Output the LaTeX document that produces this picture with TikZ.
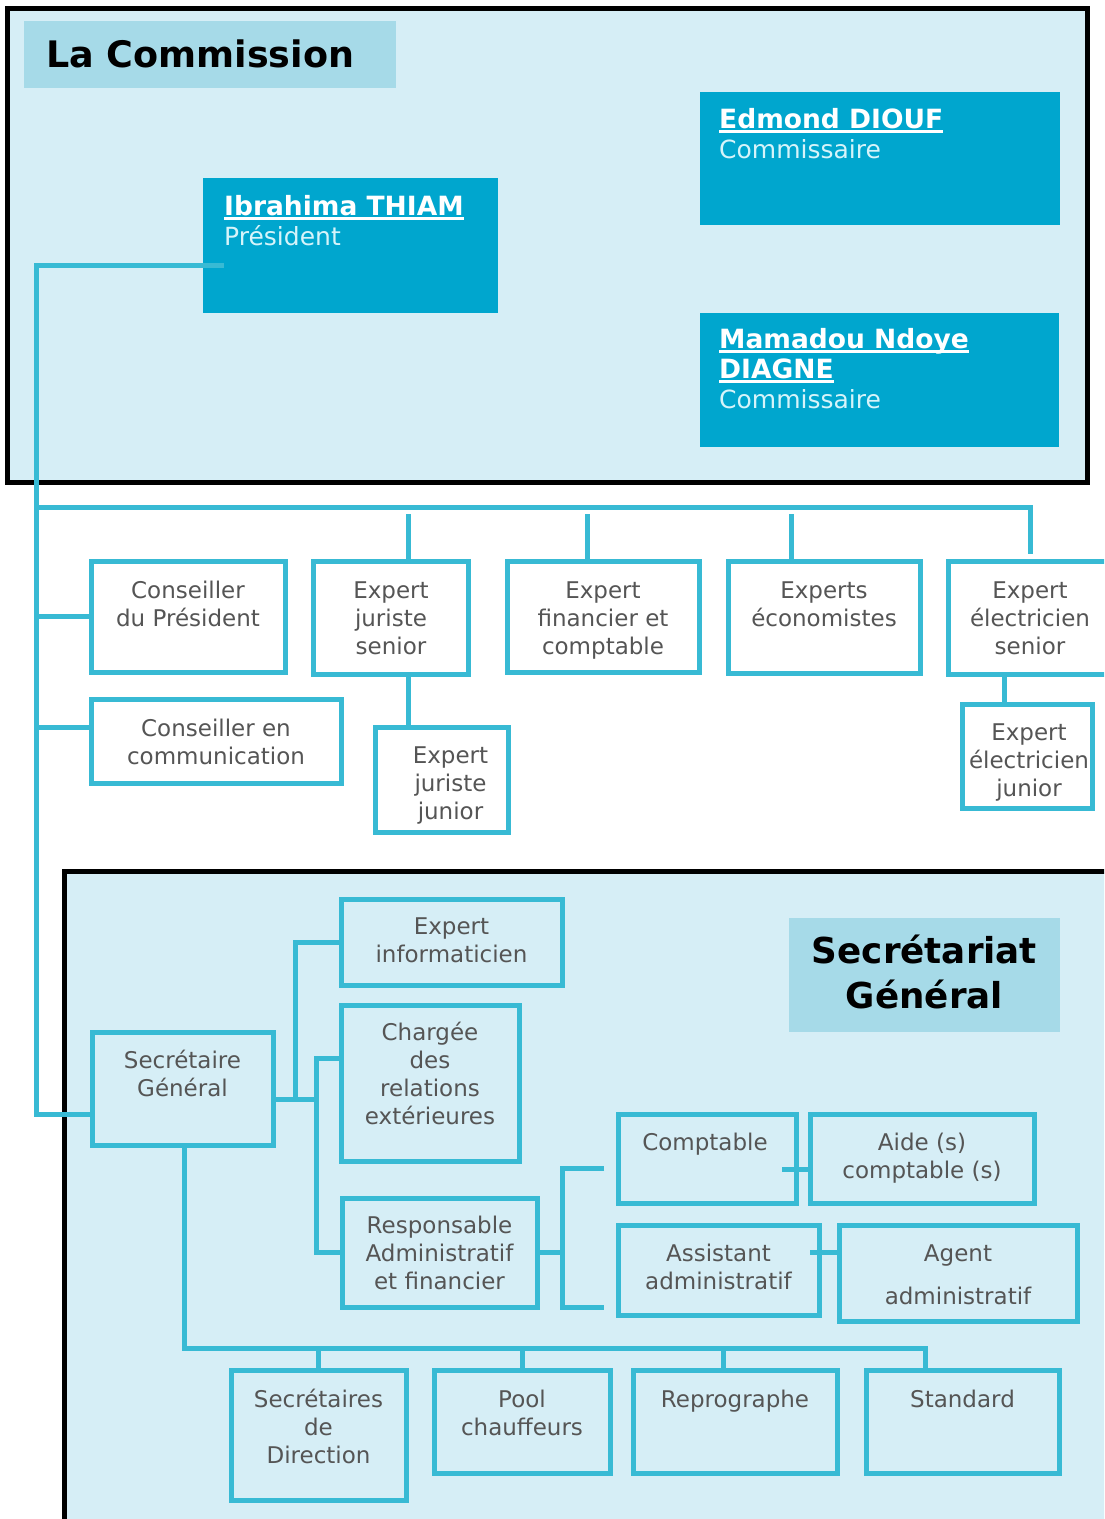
\documentclass[tikz,border=0pt]{standalone}
\usepackage{fontspec}
\setmainfont{DejaVu Sans}
\usetikzlibrary{calc}
\definecolor{lineblue}{RGB}{56,186,212}
\definecolor{framefill}{RGB}{214,238,246}
\definecolor{titlefill}{RGB}{166,218,232}
\definecolor{darkbox}{RGB}{0,166,206}
\definecolor{txtgray}{RGB}{85,85,85}
\definecolor{roletxt}{RGB}{214,244,250}
\newsavebox\ulbox
\newcommand\ulname[1]{\sbox\ulbox{#1}\rlap{\rule[-4.5pt]{\wd\ulbox}{2.2pt}}\usebox\ulbox}
\newcommand\ml[1]{\begin{tabular}[t]{@{}c@{}}#1\end{tabular}}
\newcommand\mll[1]{\begin{tabular}[t]{@{}l@{}}#1\end{tabular}}
\newcommand\mkbox[6]{\node[#6, minimum width={(#4-#2)*1pt}, minimum height={(#5-#3)*1pt}] (#1) at ({(#2+#4)/2},{(#3+#5)/2}) {};}
\tikzset{
  orgbox/.style={draw=lineblue, line width=5pt, inner sep=0pt, outer sep=0pt},
  darkbx/.style={fill=darkbox, inner sep=0pt, outer sep=0pt},
  titlebx/.style={fill=titlefill, inner sep=0pt, outer sep=0pt},
  lbl/.style={text=txtgray, font=\fontsize{23}{28}\selectfont, inner sep=0pt, anchor=base},
  bluetxt/.style={text=white, font=\fontsize{26.5}{30}\selectfont, inner sep=0pt, anchor=base west},
  conn/.style={draw=lineblue, line width=5pt},
  frame/.style={draw=black, line width=5pt, fill=framefill}
}
\newcommand\role[1]{{\fontsize{25}{30}\selectfont\color{roletxt}#1}}
\begin{document}
\begin{tikzpicture}[x=1pt,y=-1pt]
\useasboundingbox (0,0) rectangle (1104,1519);
\clip (0,0) rectangle (1104,1519);
\fill[white] (0,0) rectangle (1104,1519);
% frames
\draw[frame] (7.5,8) rectangle (1087.5,482.5);
\draw[frame] (64,871.5) rectangle (1130,1545);
% titles
\mkbox{t1}{24}{21}{396}{88}{titlebx}
\node[inner sep=0pt, anchor=base west, font=\bfseries\fontsize{36.5}{40}\selectfont] (t1-t) at ([xshift=22pt,yshift=-46pt]t1.north west) {La Commission};
\mkbox{t2}{789}{918}{1060}{1032}{titlebx}
\node[inner sep=0pt, anchor=base, font=\bfseries\fontsize{35.7}{45}\selectfont] (t2-t) at ([yshift=-45pt]t2.north) {\ml{Secrétariat\\Général}};
% commission members
\mkbox{pres}{203}{178}{498}{313}{darkbx}
\node[bluetxt] (pres-t) at ([xshift=21pt,yshift=-37pt]pres.north west) {\mll{\bfseries\ulname{Ibrahima THIAM}\\ \role{Président}}};
\mkbox{edm}{700}{92}{1060}{225}{darkbx}
\node[bluetxt] (edm-t) at ([xshift=19pt,yshift=-36pt]edm.north west) {\mll{\bfseries\ulname{Edmond DIOUF}\\ \role{Commissaire}}};
\mkbox{mam}{700}{313}{1059}{447}{darkbx}
\node[bluetxt] (mam-t) at ([xshift=19pt,yshift=-35pt]mam.north west) {\mll{\bfseries\ulname{Mamadou Ndoye}\\ \bfseries\ulname{DIAGNE}\\ \role{Commissaire}}};
% president connector and main trunk
\coordinate (pj) at (36,265);
\coordinate (pin) at (224,265);
\coordinate (mj) at (36,1114);
\coordinate (hj) at (36,507);
\coordinate (s514) at (0,514);
% row 1 boxes
\mkbox{cp}{91}{561}{285}{672}{orgbox}
\mkbox{ejs}{313.5}{561.5}{468.5}{674.5}{orgbox}
\mkbox{efc}{507}{561}{699}{672}{orgbox}
\mkbox{eco}{728}{561}{920}{673}{orgbox}
\mkbox{els}{948}{561}{1112}{674}{orgbox}
\mkbox{cc}{91}{699}{341}{783}{orgbox}
\mkbox{ejj}{375}{727}{508}{832}{orgbox}
\mkbox{elj}{962}{704}{1092}{808}{orgbox}
% SG boxes
\mkbox{info}{341}{899}{562}{985}{orgbox}
\mkbox{sg}{92}{1032}{273}{1145}{orgbox}
\mkbox{chg}{341}{1005}{519}{1161}{orgbox}
\mkbox{resp}{342}{1198}{537}{1307}{orgbox}
\mkbox{cpt}{618}{1114}{796}{1203}{orgbox}
\mkbox{aide}{810}{1114}{1034}{1203}{orgbox}
\mkbox{asst}{618}{1225}{819}{1315}{orgbox}
\mkbox{agent}{839}{1225}{1077}{1321}{orgbox}
\mkbox{sdd}{231}{1370}{406}{1500}{orgbox}
\mkbox{pool}{434}{1370}{610}{1473}{orgbox}
\mkbox{repro}{633}{1370}{837}{1473}{orgbox}
\mkbox{std}{866}{1370}{1059}{1473}{orgbox}
% connectors: commission
\draw[conn] (pin) -- (pj) -- (mj) -- (sg.west |- mj);
\draw[conn] (hj) -- (els.north |- hj) -- ([yshift=7pt]els.north);
\coordinate (ejsT) at ([xshift=17pt]ejs.north);
\coordinate (efcT) at ([xshift=-16pt]efc.north);
\coordinate (ecoT) at ([xshift=-33pt]eco.north);
\draw[conn] (ejsT |- s514) -- (ejsT);
\draw[conn] (efcT |- s514) -- (efcT);
\draw[conn] (ecoT |- s514) -- (ecoT);
\draw[conn] (cp.west -| pj) -- (cp.west);
\coordinate (ccj) at (36,727);
\draw[conn] (ccj) -- (ccj -| cc.west);
\coordinate (ejsB) at ([xshift=17pt]ejs.south);
\draw[conn] (ejsB) -- (ejsB |- ejj.north);
\coordinate (elsB) at ([xshift=-26pt]els.south);
\draw[conn] (elsB) -- (elsB |- elj.north);
% connectors: secretariat
\coordinate (a1) at (316,1099);
\coordinate (a2) at (295,1099);
\coordinate (b1) at (316,1058);
\draw[conn] (sg.east |- a1) -- (a1);
\draw[conn] (a2) -- (a2 |- info.west) -- (info.west);
\draw[conn] (chg.west |- b1) -- (b1) -- (b1 |- resp.west) -- (resp.west);
\coordinate (c1) at (562,1252);
\coordinate (c2) at (562,1168);
\coordinate (c3) at (562,1307);
\coordinate (cptL) at ([xshift=-14pt]cpt.west);
\coordinate (asstL) at ([xshift=-14pt]asst.west);
\draw[conn] (resp.east) -- (resp.east -| c1);
\draw[conn] (cptL |- c2) -- (c2) -- (c3) -- (asstL |- c3);
\coordinate (d1) at (782,1169);
\draw[conn] (d1) -- (d1 -| aide.west);
\coordinate (d2) at (810,1252);
\draw[conn] (d2) -- (d2 -| agent.west);
\coordinate (e1) at (184,1348);
\coordinate (e2) at (925,1348);
\coordinate (e3) at (723,1348);
\draw[conn] (e1 |- sg.south) -- (e1) -- (e2) -- (e2 |- std.north);
\draw[conn] (sdd.north |- e1) -- (sdd.north);
\draw[conn] (pool.north |- e1) -- (pool.north);
\draw[conn] (e3) -- (e3 |- repro.north);
% labels
\node[lbl] (cp-t) at ([yshift=-37pt]cp.north) {\ml{Conseiller\\du Président}};
\node[lbl] (ejs-t) at ([yshift=-37pt]ejs.north) {\ml{Expert\\juriste\\senior}};
\node[lbl] (efc-t) at ([yshift=-37pt]efc.north) {\ml{Expert\\financier et\\comptable}};
\node[lbl] (eco-t) at ([yshift=-37pt]eco.north) {\ml{Experts\\économistes}};
\node[lbl] (els-t) at ([yshift=-37pt]els.north) {\ml{Expert\\électricien\\senior}};
\node[lbl] (cc-t) at ([yshift=-37pt]cc.north) {\ml{Conseiller en\\communication}};
\node[lbl] (ejj-t) at ([xshift=9pt,yshift=-36pt]ejj.north) {\ml{Expert\\juriste\\junior}};
\node[lbl] (elj-t) at ([xshift=2pt,yshift=-36pt]elj.north) {\ml{Expert\\électricien\\junior}};
\node[lbl] (info-t) at ([yshift=-35pt]info.north) {\ml{Expert\\informaticien}};
\node[lbl] (sg-t) at ([yshift=-36pt]sg.north) {\ml{Secrétaire\\Général}};
\node[lbl] (chg-t) at ([yshift=-35pt]chg.north) {\ml{Chargée\\des\\relations\\extérieures}};
\node[lbl] (resp-t) at ([yshift=-35pt]resp.north) {\ml{Responsable\\Administratif\\et financier}};
\node[lbl] (cpt-t) at ([xshift=-2pt,yshift=-36pt]cpt.north) {Comptable};
\node[lbl] (aide-t) at ([yshift=-36pt]aide.north) {\ml{Aide (s)\\comptable (s)}};
\node[lbl] (asst-t) at ([yshift=-36pt]asst.north) {\ml{Assistant\\administratif}};
\node[lbl] (agent-t) at ([yshift=-36pt]agent.north) {\ml{Agent\\[15pt]administratif}};
\node[lbl] (sdd-t) at ([yshift=-37pt]sdd.north) {\ml{Secrétaires\\de\\Direction}};
\node[lbl] (pool-t) at ([yshift=-37pt]pool.north) {\ml{Pool\\chauffeurs}};
\node[lbl] (repro-t) at ([yshift=-37pt]repro.north) {Reprographe};
\node[lbl] (std-t) at ([yshift=-37pt]std.north) {Standard};
\end{tikzpicture}
\end{document}
